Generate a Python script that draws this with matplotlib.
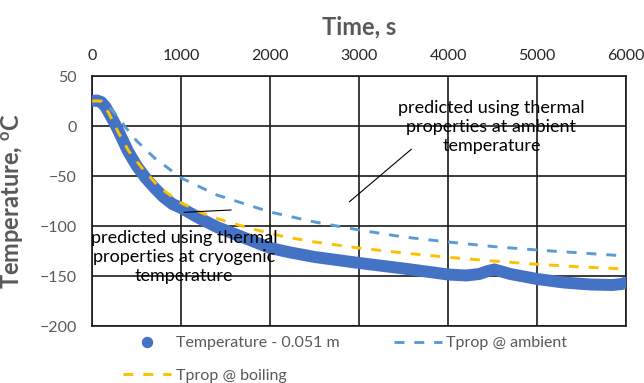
import matplotlib
matplotlib.use("Agg")
import matplotlib.pyplot as plt
from matplotlib.lines import Line2D

plt.rcParams['font.family'] = ['Lato', 'DejaVu Sans']

# Measured temperature at 0.051 m (s, °C)
meas_t = [0, 50, 100, 150, 200, 250, 300, 400, 500, 600, 700, 800, 900, 1000,
          1200, 1400, 1600, 1800, 2000, 2200, 2500, 3000, 3500, 4000, 4200,
          4350, 4450, 4520, 4600, 4700, 5000, 5300, 5600, 5850, 5950, 6000]
meas_T = [25, 25.5, 24, 19, 11, 3, -6, -25, -40, -52, -62, -71, -78, -82,
          -92, -101, -108, -115, -122, -126, -131, -137, -142.5, -148.5, -149.5,
          -148, -145, -143.5, -145.5, -148, -153, -156.5, -158.5, -159, -158, -156.5]

# Prediction with thermal properties at ambient temperature
amb_t = [0, 100, 200, 300, 371, 500, 700, 1000, 1400, 2000, 2500, 3000, 3500,
         4000, 4500, 5000, 5500, 6000]
amb_T = [25, 25, 18, 8, -1, -15, -32, -52, -69, -86, -96, -104, -111,
         -116, -120.5, -124, -127, -130]

# Prediction with thermal properties at boiling temperature
boil_t = [0, 100, 185, 296, 409, 559, 747, 1000, 1234, 1418, 1760, 2154, 2500,
          3000, 3500, 4000, 4500, 5000, 5500, 6000]
boil_T = [25, 25, 13, -7, -25, -42, -61, -77, -87, -93, -102, -110.7, -116,
          -122, -127, -131.3, -135, -138.3, -141, -143]

x_ticks = [0, 1000, 2000, 3000, 4000, 5000, 6000]
y_ticks = [50, 0, -50, -100, -150, -200]

C_MEAS = '#4472C4'
C_AMB = '#5B9BD5'
C_BOIL = '#FFC000'
GRAY = '#595959'

fig = plt.figure(figsize=(6.44, 3.83), dpi=100)
W, H = 644, 383
ax = fig.add_axes([92.3 / W, 1 - 326 / H, (626 - 92.3) / W, 250 / H])

ax.plot(meas_t, meas_T, color=C_MEAS, lw=8.6, solid_capstyle='round',
        solid_joinstyle='round', zorder=3)
ax.plot(amb_t, amb_T, color=C_AMB, lw=2.1, ls=(0, (3.4, 3.4)), zorder=4)
ax.plot(boil_t, boil_T, color=C_BOIL, lw=2.1, ls=(0, (3.4, 3.4)), zorder=5)

ax.set_xlim(0, 6000)
ax.set_ylim(-200, 50)
ax.set_xticks(x_ticks)
ax.set_yticks(y_ticks)
ax.xaxis.tick_top()
ax.xaxis.set_label_position('top')
ax.tick_params(axis='both', length=0, labelsize=11.5)
ax.tick_params(axis='x', pad=9, labelcolor='#262626')
ax.tick_params(axis='y', pad=11, labelcolor=GRAY)
ax.grid(True, color='#1a1a1a', lw=1.2, zorder=1)
ax.set_axisbelow(True)
for s in ax.spines.values():
    s.set_color('#1a1a1a')
    s.set_linewidth(1.2)

ax.set_xlabel('Time, s', fontsize=17, fontweight='bold', color=GRAY, labelpad=11)
ax.set_ylabel('Temperature, $^{\\mathregular{o}}$C', fontsize=17,
              fontweight='bold', color=GRAY, labelpad=10)

ax.text(4486, -1, 'predicted using thermal\nproperties at ambient\ntemperature',
        ha='center', va='center', fontsize=13, color='black',
        linespacing=1.25, zorder=6)
ax.plot([3586, 2891], [-23.3, -75.7], color='black', lw=0.8, zorder=6)
ax.text(1029, -131, 'predicted using thermal\nproperties at cryogenic\ntemperature',
        ha='center', va='center', fontsize=13, color='black',
        linespacing=1.25, zorder=6)
ax.plot([1033, 1559], [-86.3, -84], color='black', lw=0.8, zorder=6)

handles = [
    Line2D([], [], color=C_MEAS, marker='o', ls='none', markersize=7.2),
    Line2D([], [], color=C_BOIL, lw=2.1, ls=(0, (3.4, 3.4))),
    Line2D([], [], color=C_AMB, lw=2.1, ls=(0, (3.4, 3.4))),
]
labels = ['Temperature - 0.051 m', 'Tprop @ boiling', 'Tprop @ ambient']
leg = ax.legend(handles, labels, ncol=2, loc='upper left',
                bbox_to_anchor=(123 / W, 1 - 336 / H), bbox_transform=fig.transFigure,
                frameon=False, fontsize=11.5, borderpad=0, borderaxespad=0,
                handlelength=3.0, handletextpad=0.3, columnspacing=3.4,
                labelspacing=1.15)
for t in leg.get_texts():
    t.set_color(GRAY)

fig.savefig('out.png', dpi=100)
